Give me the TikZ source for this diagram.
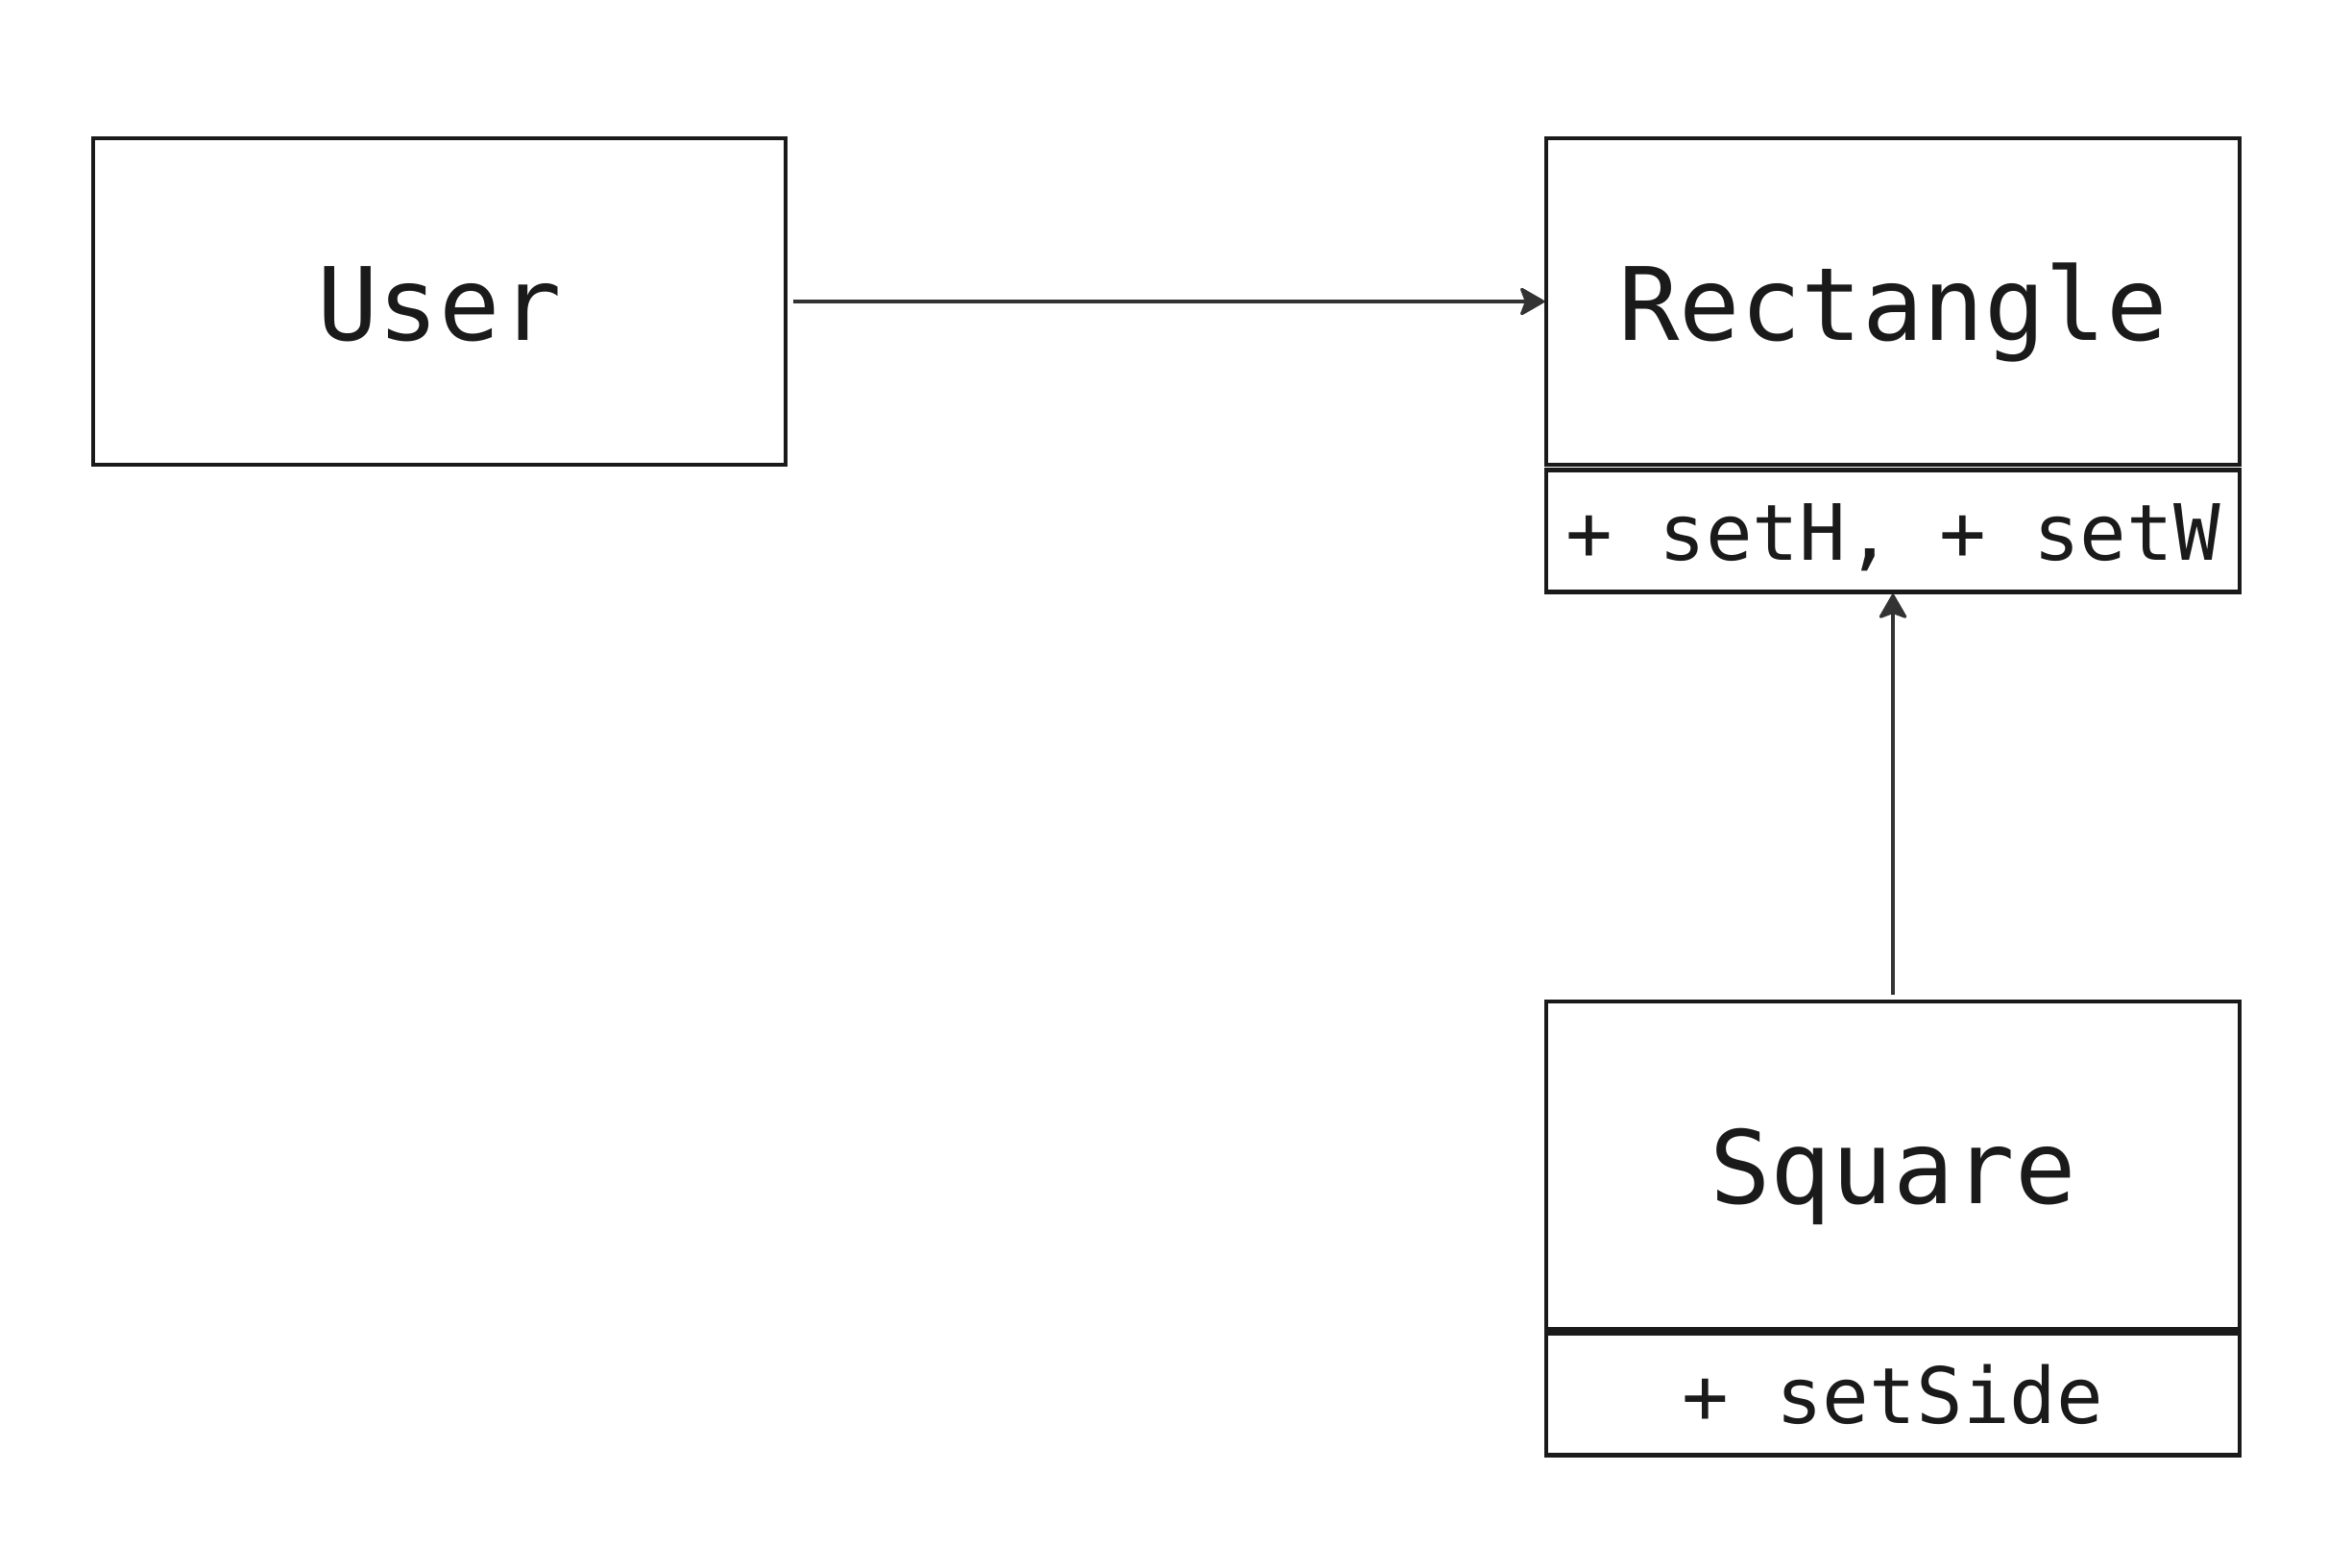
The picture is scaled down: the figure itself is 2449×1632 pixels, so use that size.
\documentclass[tikz,border=0pt]{standalone}
\usepackage{fontspec}
\setmonofont{DejaVu Sans Mono}
\usetikzlibrary{arrows.meta}
\definecolor{ink}{HTML}{1A1A1A}
\definecolor{wire}{HTML}{333333}
\begin{document}
\begin{tikzpicture}[x=0.01cm,y=-0.01cm,
  classbox/.style={draw=ink,line width=1.2pt,rectangle,minimum width=7.21cm,inner sep=0pt,font=\ttfamily\fontsize{30}{36}\selectfont,text=ink,text height=23pt,text depth=0pt},
  methbox/.style={draw=ink,line width=1.2pt,rectangle,minimum width=7.21cm,minimum height=1.27cm,inner sep=0pt,font=\ttfamily\fontsize{23}{28}\selectfont,text=ink,text height=17.5pt,text depth=0pt},
  link/.style={draw=wire,line width=0.9pt,-{Stealth[length=0.28cm,width=0.32cm,inset=0.06cm,round,fill=wire]},shorten <=1.5pt}]
\useasboundingbox (0,0) rectangle (2449,1632);
\node[classbox,minimum height=3.40cm] (user) at (457.5,314) {User};
\node[classbox,minimum height=3.40cm] (rect) at (1971,314) {Rectangle};
\node[methbox] (rectm) at (1971,553) {+ setH, + setW};
\node[classbox,minimum height=3.41cm] (sq) at (1971,1213.5) {Square};
\node[methbox] (sqm) at (1971,1452) {+ setSide};
\draw[link] (user.east) -- (rect.west);
\draw[link] (sq.north) -- (rectm.south);
\end{tikzpicture}
\end{document}
